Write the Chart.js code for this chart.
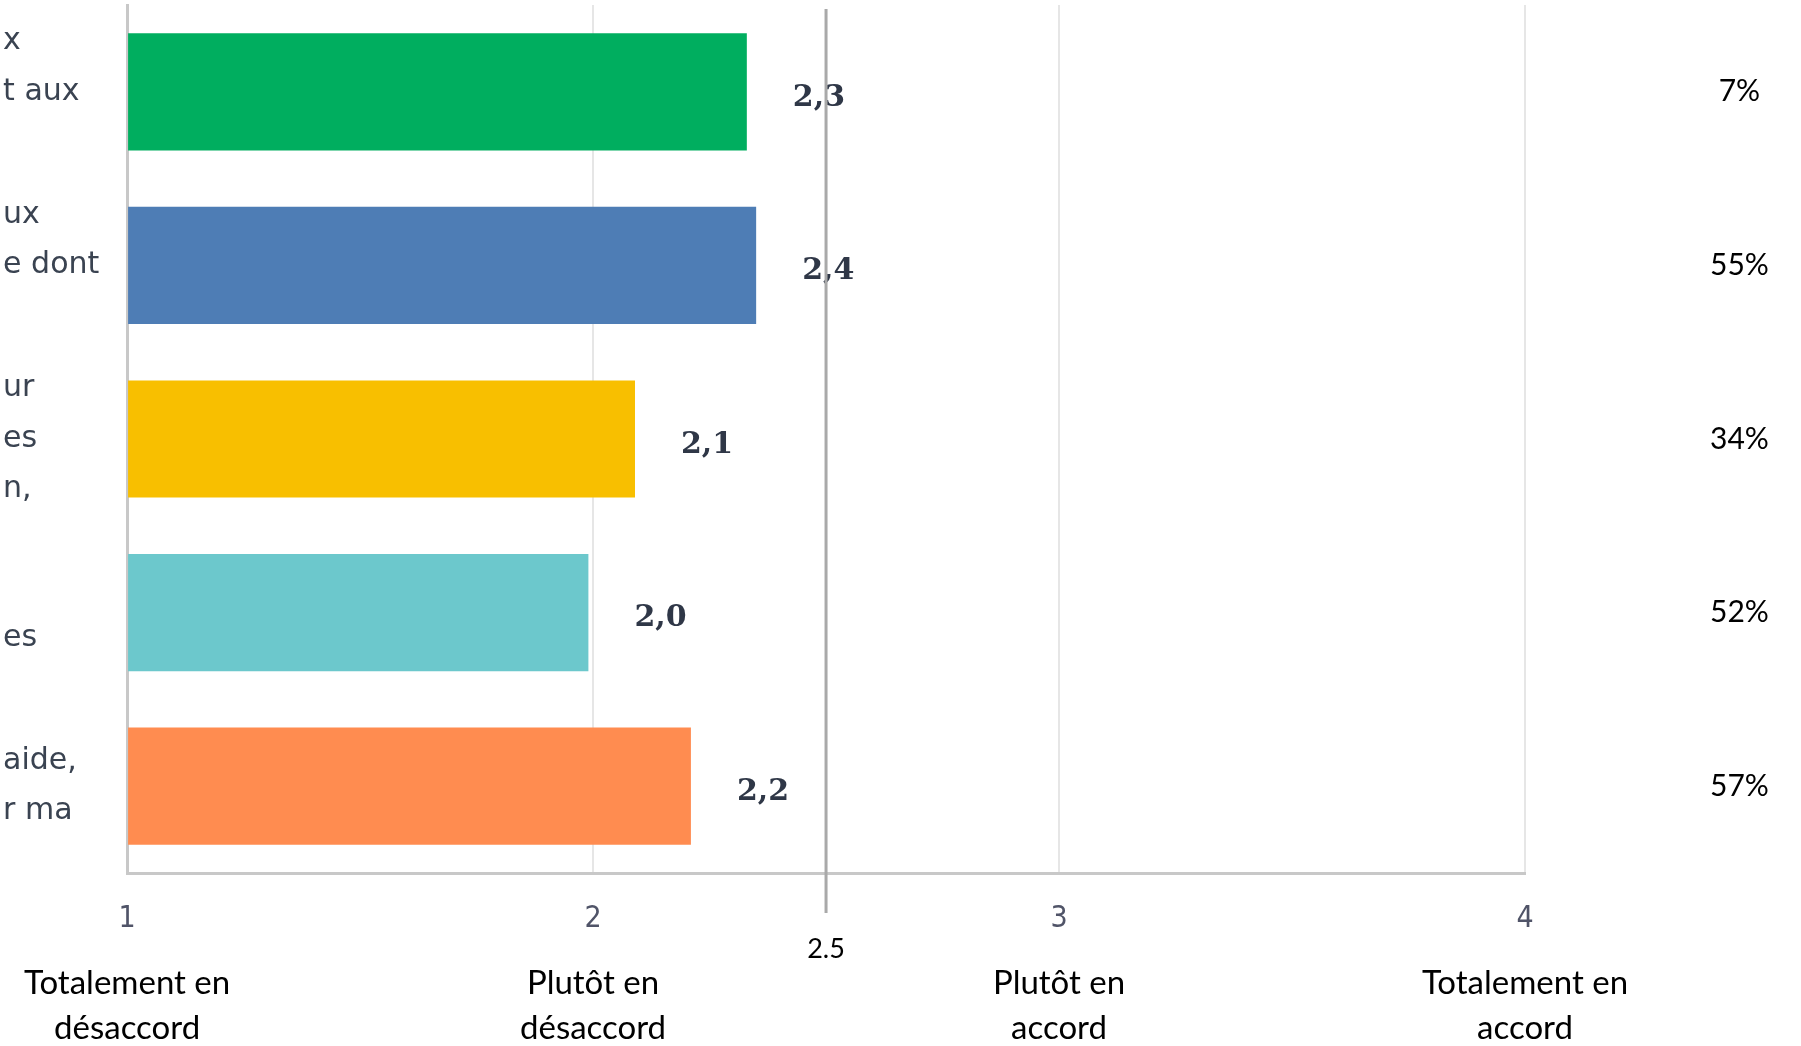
<!DOCTYPE html>
<html>
<head>
<meta charset="utf-8">
<script src="https://cdn.jsdelivr.net/npm/chart.js@4.4.1/dist/chart.umd.min.js"></script>
<style>
  html, body { margin: 0; padding: 0; background: #fff; overflow: hidden; }
  #wrap { width: 1801px; height: 1046px; position: relative; }
</style>
</head>
<body>
<div id="wrap"><canvas id="chart"></canvas></div>
<script>
// visible parts of the statement labels (cut by the left edge in the original)
const statements = [
  ['x', 't aux', ''],
  ['ux', 'e dont', ''],
  ['ur', 'es', 'n,'],
  ['', 'es'],
  ['aide,', 'r ma']
];
const averages = [2.33, 2.35, 2.09, 1.99, 2.21];
const averageLabels = ['2,3', '2,4', '2,1', '2,0', '2,2'];
const shares = ['7%', '55%', '34%', '52%', '57%'];
const barColors = ['#00ae5f', '#4e7db5', '#f8bf00', '#6cc8cc', '#ff8c50'];

const scaleTicks = [1, 2, 3, 4];
const scaleLabels = [
  ['Totalement en', 'désaccord'],
  ['Plutôt en', 'désaccord'],
  ['Plutôt en', 'accord'],
  ['Totalement en', 'accord']
];
const midpoint = 2.5;

const refLinePlugin = {
  id: 'refLine',
  afterDraw(chart) {
    const { ctx, chartArea } = chart;
    const x = chart.scales.x.getPixelForValue(midpoint);
    ctx.save();
    ctx.strokeStyle = '#a9a9a9';
    ctx.lineWidth = 3;
    ctx.beginPath();
    ctx.moveTo(x, chartArea.top + 4);
    ctx.lineTo(x, chartArea.bottom + 40);
    ctx.stroke();
    ctx.fillStyle = '#000';
    ctx.font = '27px Lato';
    ctx.textAlign = 'center';
    ctx.textBaseline = 'middle';
    ctx.fillText(String(midpoint), x, chartArea.bottom + 76);
    ctx.restore();
  }
};

const valueLabelPlugin = {
  id: 'valueLabels',
  afterDatasetsDraw(chart) {
    const { ctx } = chart;
    const meta = chart.getDatasetMeta(0);
    ctx.save();
    ctx.fillStyle = '#2f3747';
    ctx.font = 'bold 30px "DejaVu Serif"';
    ctx.textAlign = 'left';
    ctx.textBaseline = 'middle';
    meta.data.forEach((bar, i) => {
      ctx.fillText(averageLabels[i], bar.x + 46, bar.y + 6);
    });
    ctx.restore();
  }
};

// keep the side axes from adding label padding above/below the plot
function fixSide(width) {
  return scale => {
    scale.width = width;
    scale.paddingTop = 0;
    scale.paddingBottom = 0;
  };
}

new Chart(document.getElementById('chart'), {
  type: 'bar',
  data: {
    labels: statements,
    datasets: [{
      data: averages,
      base: 1,
      backgroundColor: barColors,
      borderWidth: 0,
      categoryPercentage: 1,
      barPercentage: 0.675
    }]
  },
  options: {
    indexAxis: 'y',
    responsive: true,
    maintainAspectRatio: false,
    animation: false,
    layout: { padding: { top: 5, left: 0, right: 0, bottom: 0 } },
    plugins: {
      legend: { display: false },
      tooltip: { enabled: false }
    },
    scales: {
      x: {
        type: 'linear',
        position: 'bottom',
        min: 1,
        max: 4,
        afterBuildTicks: scale => { scale.ticks = scaleTicks.map(v => ({ value: v })); },
        afterFit: scale => { scale.height = 64; },
        grid: { color: '#e6e6e6', lineWidth: 2, drawTicks: false },
        border: { color: '#c8c8c8', width: 3 },
        ticks: {
          padding: 28,
          color: '#505468',
          font: { family: "'Liberation Sans Narrow', 'DejaVu Sans Condensed', 'Liberation Sans'", size: 30 }
        }
      },
      x2: {
        type: 'linear',
        position: 'bottom',
        min: 1,
        max: 4,
        afterBuildTicks: scale => { scale.ticks = scaleTicks.map(v => ({ value: v })); },
        afterFit: scale => { scale.height = 109; },
        grid: { display: false, drawTicks: false },
        border: { display: false },
        ticks: {
          padding: 24,
          color: '#000',
          font: { family: 'Lato', size: 33, lineHeight: 1.36 },
          callback: value => scaleLabels[scaleTicks.indexOf(value)]
        }
      },
      y: {
        type: 'category',
        position: 'left',
        offset: true,
        afterFit: fixSide(124),
        grid: { display: false, drawTicks: false },
        border: { color: '#c8c8c8', width: 3 },
        ticks: {
          autoSkip: false,
          crossAlign: 'far',
          padding: 0,
          color: '#3a4351',
          font: { family: "'DejaVu Sans'", size: 30, lineHeight: 1.68 }
        }
      },
      y2: {
        type: 'category',
        position: 'right',
        labels: shares,
        offset: true,
        afterFit: fixSide(276),
        grid: { display: false, drawTicks: false },
        border: { display: false },
        ticks: {
          autoSkip: false,
          crossAlign: 'center',
          padding: 185,
          color: '#000',
          font: { family: 'Lato', size: 30 }
        }
      }
    }
  },
  plugins: [refLinePlugin, valueLabelPlugin]
});
</script>
</body>
</html>
